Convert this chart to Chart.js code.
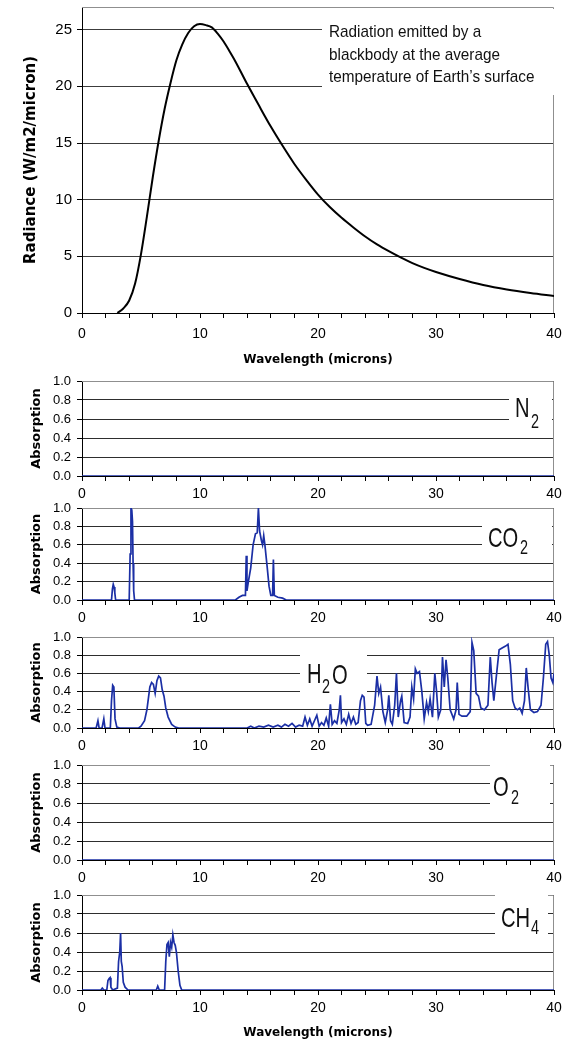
<!DOCTYPE html>
<html>
<head>
<meta charset="utf-8">
<script src="https://cdn.jsdelivr.net/npm/chart.js@4.4.1/dist/chart.umd.min.js"></script>
<style>
  body { margin: 0; background: #fff; }
  #wrap { position: relative; width: 563px; height: 1042px; }
  #wrap canvas { position: absolute; left: 0; }
</style>
</head>
<body>
<div id="wrap">
  <canvas id="bb" width="563" height="368" style="top:0px"></canvas>
  <canvas id="n2" width="563" height="131" style="top:371px"></canvas>
  <canvas id="co2" width="563" height="128" style="top:498px"></canvas>
  <canvas id="h2o" width="563" height="127" style="top:627px"></canvas>
  <canvas id="o2" width="563" height="131" style="top:755px"></canvas>
  <canvas id="ch4" width="563" height="157" style="top:885px"></canvas>
</div>
<script>
// blackbody curve (radiance vs wavelength)
const bbWave = [3, 3.5, 4, 4.5, 5, 5.5, 6, 6.5, 7, 7.5, 8, 8.5, 9, 9.5, 10, 10.5, 11,
  11.5, 12, 12.5, 13, 14, 15, 16, 17, 18, 19, 20, 21, 22, 23, 24, 25, 26, 27, 28, 29, 30,
  32, 34, 36, 38, 40];
const bbRad = [0, 0.4, 1.1, 2.6, 5.2, 8.5, 12, 15.2, 18, 20.3, 22.3, 23.7, 24.7, 25.3, 25.5, 25.4, 25.2,
  24.65, 23.95, 23.1, 22.2, 20.2, 18.3, 16.45, 14.75, 13.15, 11.75, 10.45, 9.35, 8.4, 7.55, 6.75, 6.05, 5.45, 4.9, 4.4, 3.98, 3.62,
  3.0, 2.47, 2.07, 1.76, 1.5];

// absorption spectra
const n2Wave = [0, 40];
const n2Abs = [0, 0];

const co2Wave = [0, 2.5, 2.58, 2.65, 2.72, 2.78, 2.85,
  4.0, 4.08, 4.15, 4.22, 4.28, 4.33, 4.38, 4.45,
  13.0, 13.3, 13.6, 13.85, 13.92, 13.98,
  14.1, 14.3, 14.5, 14.7, 14.85, 14.95, 15.05, 15.2, 15.3, 15.4, 15.5,
  15.7, 15.85, 16.0, 16.15, 16.22, 16.3, 16.6, 17.0, 17.3, 40];
const co2Abs = [0, 0, 0.12, 0.17, 0.14, 0.08, 0,
  0, 0.5, 1.0, 0.98, 0.85, 0.4, 0.1, 0,
  0, 0.03, 0.05, 0.05, 0.48, 0.1,
  0.2, 0.35, 0.6, 0.72, 0.73, 1.0, 0.75, 0.65, 0.6, 0.7, 0.6,
  0.35, 0.15, 0.05, 0.05, 0.44, 0.05, 0.03, 0.02, 0, 0];

const h2oWave = [
  0, 1.2, 1.35, 1.45, 1.7, 1.85, 1.95, 2.4, 2.5, 2.6, 2.7, 2.8, 2.95, 3.2, 4.8, 5.0, 5.3, 5.5, 5.75, 5.9,
  6.05, 6.2, 6.35, 6.5, 6.65, 6.8, 6.95, 7.1, 7.3, 7.6, 7.9, 8.2, 14.0, 14.3, 14.6, 15.0, 15.4, 15.8, 16.2, 16.6,
  16.9, 17.2, 17.5, 17.8, 18.1, 18.4, 18.7, 18.9, 19.1, 19.3, 19.5, 19.7, 19.9, 20.1, 20.3, 20.5, 20.7, 20.9, 21.05, 21.2,
  21.4, 21.6, 21.8, 21.9, 22.0, 22.2, 22.4, 22.6, 22.8, 23.0, 23.2, 23.4, 23.6, 23.75, 23.9, 24.05, 24.2, 24.5, 24.8, 25.0,
  25.15, 25.3, 25.5, 25.7, 25.9, 26.0, 26.15, 26.3, 26.5, 26.65, 26.8, 27.0, 27.1, 27.3, 27.6, 27.8, 27.95, 28.1, 28.25, 28.4,
  28.6, 28.8, 29.0, 29.2, 29.35, 29.5, 29.7, 29.9, 30.05, 30.2, 30.4, 30.55, 30.7, 30.85, 31.0, 31.2, 31.5, 31.7, 31.8, 31.95,
  32.2, 32.6, 32.9, 33.05, 33.2, 33.4, 33.6, 33.8, 34.1, 34.4, 34.6, 34.75, 34.9, 35.1, 35.35, 35.6, 35.9, 36.1, 36.3, 36.5,
  36.7, 36.9, 37.1, 37.3, 37.5, 37.65, 37.8, 38.0, 38.3, 38.6, 38.9, 39.1, 39.3, 39.45, 39.6, 39.75, 39.9, 40.0];
const h2oAbs = [
  0, 0, 0.08, 0, 0, 0.1, 0, 0, 0.3, 0.47, 0.45, 0.1, 0.01, 0, 0, 0.02, 0.08, 0.2, 0.45, 0.5,
  0.48, 0.38, 0.52, 0.57, 0.55, 0.42, 0.35, 0.22, 0.12, 0.04, 0.01, 0, 0, 0.02, 0, 0.02, 0.01, 0.03, 0.01, 0.03,
  0.01, 0.04, 0.02, 0.05, 0.01, 0.03, 0.02, 0.12, 0.03, 0.1, 0.02, 0.08, 0.14, 0.02, 0.06, 0.03, 0.11, 0.02, 0.26, 0.04,
  0.08, 0.05, 0.2, 0.36, 0.06, 0.1, 0.04, 0.15, 0.05, 0.12, 0.04, 0.06, 0.3, 0.36, 0.34, 0.05, 0.03, 0.04, 0.25, 0.57,
  0.38, 0.45, 0.18, 0.06, 0.2, 0.36, 0.08, 0.04, 0.25, 0.6, 0.12, 0.3, 0.35, 0.06, 0.05, 0.12, 0.45, 0.32, 0.65, 0.6,
  0.62, 0.4, 0.1, 0.28, 0.18, 0.32, 0.12, 0.6, 0.4, 0.12, 0.2, 0.78, 0.45, 0.75, 0.55, 0.2, 0.1, 0.2, 0.5, 0.15,
  0.13, 0.13, 0.18, 0.94, 0.85, 0.38, 0.35, 0.22, 0.2, 0.25, 0.78, 0.5, 0.3, 0.55, 0.86, 0.88, 0.9, 0.92, 0.7, 0.3,
  0.22, 0.2, 0.22, 0.16, 0.3, 0.66, 0.45, 0.2, 0.17, 0.18, 0.25, 0.55, 0.92, 0.95, 0.8, 0.55, 0.5, 0.6];

const o2Wave = [0, 40];
const o2Abs = [0, 0];

const ch4Wave = [0, 1.6, 1.72, 1.85, 2.1, 2.2, 2.3, 2.38, 2.45, 2.6,
  3.0, 3.1, 3.2, 3.27, 3.33, 3.4, 3.5, 3.65, 3.9, 6.3, 6.42, 6.55,
  7.0, 7.1, 7.2, 7.3, 7.4, 7.5, 7.6, 7.7, 7.8, 7.9, 8.0, 8.15, 8.3, 8.45, 40];
const ch4Abs = [0, 0, 0.02, 0, 0, 0.1, 0.12, 0.13, 0.03, 0,
  0.02, 0.3, 0.4, 0.6, 0.3, 0.25, 0.08, 0.03, 0, 0, 0.04, 0,
  0, 0.3, 0.48, 0.5, 0.35, 0.5, 0.45, 0.58, 0.5, 0.47, 0.4, 0.2, 0.05, 0, 0];

const absTicks = [0, 0.2, 0.4, 0.6, 0.8, 1.0];
const radTicks = [0, 5, 10, 15, 20, 25];

const BLUE = '#1b2fa5';
const tickFamily = "'Liberation Sans', Arial, sans-serif";
const titleFamily = "'DejaVu Sans', Verdana, sans-serif";

function pts(xs, ys) {
  return xs.map((x, i) => ({ x: x, y: ys[i] }));
}

// grey frame on top/right, white label box, label text
const panelDecor = {
  id: 'panelDecor',
  beforeDatasetsDraw(chart, args, o) {
    const ctx = chart.ctx, a = chart.chartArea;
    ctx.save();
    ctx.strokeStyle = '#8f8f8f';
    ctx.lineWidth = 1;
    ctx.beginPath();
    ctx.moveTo(a.left, Math.round(a.top) + 0.5);
    ctx.lineTo(Math.round(a.right) - 0.5, Math.round(a.top) + 0.5);
    ctx.lineTo(Math.round(a.right) - 0.5, a.bottom);
    ctx.stroke();
    if (o.box) {
      const b = o.box;
      ctx.fillStyle = '#fff';
      ctx.fillRect(a.left + b[0], a.top + b[1], b[2] - b[0], b[3] - b[1]);
    }
    (o.texts || []).forEach(t => {
      ctx.save();
      ctx.translate(a.left + t.x, a.top + t.y);
      ctx.scale(t.sx, 1);
      ctx.font = t.size + 'px ' + tickFamily;
      ctx.fillStyle = '#111';
      ctx.textBaseline = 'alphabetic';
      ctx.textAlign = 'left';
      ctx.fillText(t.text, 0, 0);
      ctx.restore();
    });
    ctx.restore();
  }
};

function xAxis(height, labelPad, withTitle, titlePad) {
  return {
    type: 'linear', min: 0, max: 40,
    afterFit: s => { s.height = height; s.paddingLeft = 0; s.paddingRight = 0; },
    ticks: {
      stepSize: 2, autoSkip: false, maxRotation: 0, padding: labelPad, color: '#000',
      font: { family: tickFamily, size: 14 },
      callback: v => (v % 10 === 0 ? v : '')
    },
    grid: { drawOnChartArea: false, tickLength: 5, tickColor: '#000' },
    border: { color: '#000', width: 1 },
    title: {
      display: withTitle, text: 'Wavelength (microns)', color: '#000',
      font: { family: titleFamily, size: 12, weight: 'bold' },
      padding: { top: 0, bottom: titlePad }
    }
  };
}

// top chart: blackbody radiance
new Chart(document.getElementById('bb'), {
  type: 'line',
  data: {
    datasets: [{
      data: pts(bbWave, bbRad),
      borderColor: '#000', borderWidth: 2, pointRadius: 0,
      cubicInterpolationMode: 'monotone', fill: false
    }]
  },
  options: {
    responsive: false, animation: false, events: [],
    layout: { padding: { top: 7, right: 9, left: 0, bottom: 0 } },
    plugins: {
      legend: { display: false }, tooltip: { enabled: false },
      panelDecor: {
        box: [240, 2, 476, 88],
        texts: [
          { text: 'Radiation emitted by a', x: 247, y: 30, size: 17, sx: 0.9 },
          { text: 'blackbody at the average', x: 247, y: 52.5, size: 17, sx: 0.9 },
          { text: 'temperature of Earth\u2019s surface', x: 247, y: 75, size: 17, sx: 0.9 }
        ]
      }
    },
    scales: {
      x: xAxis(55, 8, true, 1),
      y: {
        min: 0, max: 27,
        afterBuildTicks: s => { s.ticks = radTicks.map(v => ({ value: v })); },
        afterFit: s => { s.width = 82; s.paddingTop = 0; s.paddingBottom = 0; },
        ticks: { autoSkip: false, padding: 5, color: '#000', font: { family: tickFamily, size: 15 } },
        grid: { color: '#3c3c3c', tickColor: '#000', tickLength: 5 },
        border: { color: '#000', width: 1 },
        title: {
          display: true, text: 'Radiance (W/m2/micron)', color: '#000',
          font: { family: titleFamily, size: 15, weight: 'bold' },
          padding: { top: 22, bottom: 0 }
        }
      }
    }
  },
  plugins: [panelDecor]
});

function absPanel(id, xs, ys, decor, bottomAxis) {
  new Chart(document.getElementById(id), {
    type: 'line',
    data: {
      datasets: [{
        data: pts(xs, ys),
        borderColor: BLUE, borderWidth: 1.7, pointRadius: 0, tension: 0, fill: false
      }]
    },
    options: {
      responsive: false, animation: false, events: [],
      layout: { padding: { top: 10, right: 9, left: 0, bottom: 0 } },
      plugins: { legend: { display: false }, tooltip: { enabled: false }, panelDecor: decor },
      scales: {
        x: bottomAxis ? xAxis(52, 5, true, 2) : xAxis(26, 5, false, 0),
        y: {
          min: 0, max: 1,
          afterBuildTicks: s => { s.ticks = absTicks.map(v => ({ value: v })); },
          afterFit: s => { s.width = 82; s.paddingTop = 0; s.paddingBottom = 0; },
          ticks: {
            autoSkip: false, padding: 6, color: '#000', font: { family: tickFamily, size: 13 },
            callback: v => v.toFixed(1)
          },
          grid: { color: '#2e2e2e', tickColor: '#000', tickLength: 5 },
          border: { color: '#000', width: 1 },
          title: {
            display: true, text: 'Absorption', color: '#000',
            font: { family: titleFamily, size: 13, weight: 'bold' },
            padding: { top: 29, bottom: 0 }
          }
        }
      }
    },
    plugins: [panelDecor]
  });
}

const MAIN = 28, SUB = 20, SX = 0.72;

absPanel('n2', n2Wave, n2Abs, {
  box: [427, 9, 470, 50],
  texts: [
    { text: 'N', x: 433, y: 36, size: MAIN, sx: SX },
    { text: '2', x: 449, y: 47, size: SUB, sx: SX }
  ]
}, false);

absPanel('co2', co2Wave, co2Abs, {
  box: [400, 10, 470, 50],
  texts: [
    { text: 'CO', x: 406, y: 39, size: MAIN, sx: SX },
    { text: '2', x: 438, y: 46, size: SUB, sx: SX }
  ]
}, false);

absPanel('h2o', h2oWave, h2oAbs, {
  box: [218, 11, 285, 60],
  texts: [
    { text: 'H', x: 225, y: 46, size: MAIN, sx: SX },
    { text: '2', x: 240, y: 56, size: SUB, sx: SX },
    { text: 'O', x: 250, y: 47, size: MAIN, sx: SX }
  ]
}, false);

absPanel('o2', o2Wave, o2Abs, {
  box: [408, -2, 468, 43],
  texts: [
    { text: 'O', x: 411, y: 31, size: MAIN, sx: SX },
    { text: '2', x: 429, y: 39, size: SUB, sx: SX }
  ]
}, false);

absPanel('ch4', ch4Wave, ch4Abs, {
  box: [413, -2, 466, 42],
  texts: [
    { text: 'CH', x: 419, y: 32, size: MAIN, sx: SX },
    { text: '4', x: 449, y: 39, size: SUB, sx: SX }
  ]
}, true);
</script>
</body>
</html>
